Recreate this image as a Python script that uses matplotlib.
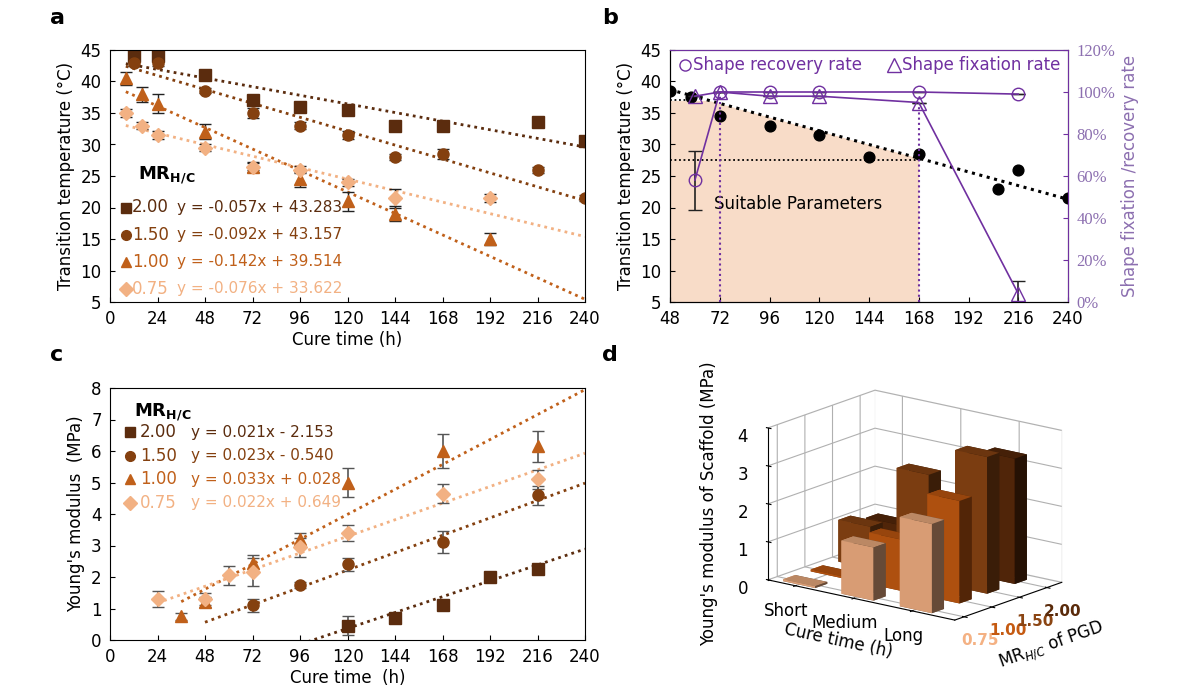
import matplotlib
matplotlib.use("Agg")
import matplotlib.pyplot as plt
import numpy as np

# ---------------- data ----------------
mr_labels = ["2.00", "1.50", "1.00", "0.75"]
colors = ["#5b2c0e", "#84400f", "#c0601a", "#f2b183"]
markers = ["s", "o", "^", "D"]

# panel a
a_x = [[12, 24, 48, 72, 96, 120, 144, 168, 216, 240],
       [12, 24, 48, 72, 96, 120, 144, 168, 216, 240],
       [8, 16, 24, 48, 72, 96, 120, 144, 192],
       [8, 16, 24, 48, 72, 96, 120, 144, 192]]
a_y = [[44, 44, 41, 37, 36, 35.5, 33, 33, 33.5, 30.5],
       [43, 43, 38.5, 35, 33, 31.5, 28, 28.5, 26, 21.5],
       [40.5, 38, 36.5, 32, 26.5, 24.5, 21, 19, 15],
       [35, 33, 31.5, 29.5, 26.5, 26, 24, 21.5, 21.5]]
a_err = [[0.6, 0.6, 0.4, 0.8, 0.6, 0.8, 0.6, 0.5, 0.6, 0.5],
         [0.5, 0.5, 0.4, 0.8, 0.5, 0.6, 0.5, 0.8, 0.5, 0.5],
         [1.0, 1.2, 1.5, 1.2, 0.8, 1.2, 1.5, 1.2, 1.0],
         [0.6, 0.6, 0.6, 0.6, 0.6, 0.6, 0.6, 1.5, 0.6]]
a_slope = [-0.057, -0.092, -0.142, -0.076]
a_icpt = [43.283, 43.157, 39.514, 33.622]
a_eq = ["y = -0.057x + 43.283", "y = -0.092x + 43.157",
        "y = -0.142x + 39.514", "y = -0.076x + 33.622"]

# panel b
b_x = [48, 58, 72, 96, 120, 144, 168, 206, 216, 240]
b_y = [38.5, 37.5, 34.5, 33, 31.5, 28, 28.5, 23, 26, 21.5]
b_rate_x = [60, 72, 96, 120, 168, 216]
b_recovery = [58, 100, 100, 100, 100, 99]
b_recovery_err = [14, 0, 0, 0, 0, 0]
b_fixation = [98, 100, 98, 98, 95, 4]
b_fixation_err = [0, 0, 0, 0, 0, 6]

# panel c
c_x = [[120, 144, 168, 192, 216],
       [72, 96, 120, 168, 216],
       [36, 48, 72, 96, 120, 168, 216],
       [24, 48, 60, 72, 96, 120, 168, 216]]
c_y = [[0.45, 0.7, 1.1, 2.0, 2.25],
       [1.1, 1.75, 2.4, 3.1, 4.6],
       [0.75, 1.2, 2.45, 3.2, 5.0, 6.0, 6.15],
       [1.3, 1.3, 2.05, 2.15, 2.95, 3.4, 4.65, 5.1]]
c_err = [[0.3, 0.1, 0.15, 0.1, 0.1],
         [0.2, 0.1, 0.2, 0.35, 0.3],
         [0.1, 0.15, 0.25, 0.2, 0.45, 0.55, 0.5],
         [0.25, 0.2, 0.3, 0.45, 0.3, 0.25, 0.3, 0.3]]
c_slope = [0.021, 0.023, 0.033, 0.022]
c_icpt = [-2.153, -0.540, 0.028, 0.649]
c_eq = ["y = 0.021x - 2.153", "y = 0.023x - 0.540",
        "y = 0.033x + 0.028", "y = 0.022x + 0.649"]
c_start = [100, 48, 36, 24]

# panel d
d_time = ["Short", "Medium", "Long"]
d_mr = ["0.75", "1.00", "1.50", "2.00"]
d_colors = ["#f4b183", "#c55a11", "#8b4513", "#5a2a0a"]
d_vals = [[0.05, 1.4, 2.35],
          [0.05, 1.35, 2.7],
          [1.1, 2.8, 3.6],
          [0.9, 1.6, 3.3]]

plt.rcParams["font.family"] = "DejaVu Sans"
fig = plt.figure(figsize=(12, 6.85), dpi=100)
W, H = 1200, 685
def rect(l, t, r, b):
    return [l / W, 1 - b / H, (r - l) / W, (b - t) / H]

# ---------- panel a ----------
ax = fig.add_axes(rect(110, 50, 585, 302))
for i in range(4):
    xs = np.array([8, 240])
    ax.plot(xs, a_slope[i] * xs + a_icpt[i], ls=(0, (1, 1.5)), lw=2, color=colors[i])
    ax.errorbar(a_x[i], a_y[i], yerr=a_err[i], fmt=markers[i], color=colors[i],
                ms=8 if markers[i] != "D" else 7, ecolor="#222222", capsize=4, elinewidth=1)
ax.set_xlim(0, 240); ax.set_ylim(5, 45)
ax.set_xticks(range(0, 241, 24)); ax.set_yticks(range(5, 46, 5))
ax.set_xlabel("Cure time (h)", fontsize=12, labelpad=2)
ax.set_ylabel("Transition temperature (°C)", fontsize=12)
ax.tick_params(labelsize=12, direction="in", pad=6)
ax.text(14, 24.5, r"$\mathbf{MR_{H/C}}$", fontsize=13)
for i in range(4):
    yy = 20 - 4.3 * i
    ax.plot(8, yy, markers[i], color=colors[i], ms=7)
    ax.text(11, yy, mr_labels[i], color=colors[i], fontsize=12, va="center")
    ax.text(34, yy, a_eq[i], color=colors[i], fontsize=11, va="center")
fig.text(50 / W, 1 - 18 / H, "a", fontsize=16, fontweight="bold", va="center")

# ---------- panel b ----------
purple = "#7030a0"
ax = fig.add_axes(rect(670, 50, 1068, 302))
xs = np.array([48, 240])
trend = lambda x: 38.7 + (21.3 - 38.7) * (x - 48) / 192
fx = np.linspace(48, 168, 50)
ax.fill_between(fx, 5, np.minimum(37, trend(fx)), color="#f8dcc8", lw=0)
ax.plot(xs, trend(xs), ls=(0, (1, 1.5)), lw=2.2, color="black")
ax.plot([48, 168], [27.5, 27.5], ls=(0, (1, 1.5)), lw=1.3, color="black")
ax.plot([48, 60], [37, 37], ls=(0, (1, 1.5)), lw=1.3, color="black")
ax.scatter(b_x, b_y, s=60, color="black", zorder=4)
ax.set_xlim(48, 240); ax.set_ylim(5, 45)
ax.set_xticks(range(48, 241, 24)); ax.set_yticks(range(5, 46, 5))
ax.set_xlabel("Cure time (h)", fontsize=12, labelpad=2)
ax.set_ylabel("Transition temperature (°C)", fontsize=12)
ax.tick_params(labelsize=12, direction="in", pad=6)
ax.text(110, 20.5, "Suitable Parameters", fontsize=12, ha="center", va="center")
ax2 = ax.twinx()
ax2.set_ylim(0, 120)
ax2.plot([72, 72], [0, 100], ls=(0, (1, 1.5)), color=purple, lw=1.5)
ax2.plot([168, 168], [0, 95], ls=(0, (1, 1.5)), color=purple, lw=1.5)
ax2.errorbar(b_rate_x, b_recovery, yerr=b_recovery_err, fmt="-o", mfc="none",
             color=purple, ecolor="#222222", ms=9, lw=1.2, capsize=5)
ax2.errorbar(b_rate_x, b_fixation, yerr=b_fixation_err, fmt="-^", mfc="none",
             color=purple, ecolor="#222222", ms=10, lw=1.2, capsize=5)
ax2.set_yticks(range(0, 121, 20))
ax2.set_yticklabels([f"{v}%" for v in range(0, 121, 20)], color="#8c6fb0",
                    fontsize=12, fontfamily="Liberation Serif")
ax2.set_ylabel("Shape fixation /recovery rate", color="#8c6fb0", fontsize=12)
ax2.tick_params(direction="in", colors=purple, labelcolor="#8c6fb0", pad=6)
for s in ["right", "top"]:
    ax2.spines[s].set_color(purple)
ax2.plot(55, 113, "o", mfc="none", color=purple, ms=8)
ax2.text(59, 113, "Shape recovery rate", color=purple, fontsize=12, va="center")
ax2.plot(156, 113, "^", mfc="none", color=purple, ms=10)
ax2.text(160, 113, "Shape fixation rate", color=purple, fontsize=12, va="center")
fig.text(602 / W, 1 - 18 / H, "b", fontsize=16, fontweight="bold", va="center")

# ---------- panel c ----------
ax = fig.add_axes(rect(110, 388, 585, 640))
for i in range(4):
    xs = np.array([c_start[i], 240])
    ax.plot(xs, c_slope[i] * xs + c_icpt[i], ls=(0, (1, 1.5)), lw=2, color=colors[i])
    ax.errorbar(c_x[i], c_y[i], yerr=c_err[i], fmt=markers[i], color=colors[i],
                ms=8 if markers[i] != "D" else 7, ecolor="#555555", capsize=4, elinewidth=1.2)
ax.set_xlim(0, 240); ax.set_ylim(0, 8)
ax.set_xticks(range(0, 241, 24)); ax.set_yticks(range(0, 9))
ax.set_xlabel("Cure time  (h)", fontsize=12, labelpad=2)
ax.set_ylabel("Young's modulus  (MPa)", fontsize=12)
ax.tick_params(labelsize=12, direction="in", pad=6)
ax.text(12, 7.1, r"$\mathbf{MR_{H/C}}$", fontsize=13)
for i in range(4):
    yy = 6.6 - 0.75 * i
    ax.plot(10, yy, markers[i], color=colors[i], ms=7)
    ax.text(15, yy, mr_labels[i], color=colors[i], fontsize=12, va="center")
    ax.text(41, yy, c_eq[i], color=colors[i], fontsize=11, va="center")
fig.text(50 / W, 1 - 355 / H, "c", fontsize=16, fontweight="bold", va="center")

# ---------- panel d ----------
ax = fig.add_axes(rect(630, 330, 1190, 690), projection="3d", proj_type="ortho")
for j in range(4):
    for i in range(3):
        ax.bar3d(i, j * 0.8, 0, 0.55, 0.35, d_vals[j][i], color=d_colors[j], shade=True)
ax.set_xlim(-0.2, 3.0); ax.set_ylim(-0.1, 3.0)
ax.set_xticks([0.27, 1.27, 2.27]); ax.set_xticklabels(d_time, fontsize=12)
ax.set_yticks([0.17, 0.97, 1.77, 2.57])
ax.set_yticklabels(d_mr, fontsize=11, fontweight="bold")
for t, c in zip(ax.get_yticklabels(), d_colors):
    t.set_color(c)
ax.set_zticks(range(0, 5)); ax.set_zlim(0, 4)
ax.tick_params(axis="z", labelsize=12)
ax.set_xlabel("Cure time (h)", fontsize=12, labelpad=8)
ax.set_ylabel(r"MR$_{H/C}$ of PGD", fontsize=12, labelpad=10)
ax.set_zlabel("Young's modulus of Scaffold (MPa)", fontsize=12, labelpad=6)
ax.zaxis._axinfo["juggled"] = (1, 2, 0)
ax.view_init(elev=16, azim=-52)
ax.set_box_aspect((3, 2.2, 2.0), zoom=0.9)
ax.xaxis.pane.fill = False; ax.yaxis.pane.fill = False; ax.zaxis.pane.fill = False
fig.text(602 / W, 1 - 355 / H, "d", fontsize=16, fontweight="bold", va="center")

fig.savefig("out.png", dpi=100)
